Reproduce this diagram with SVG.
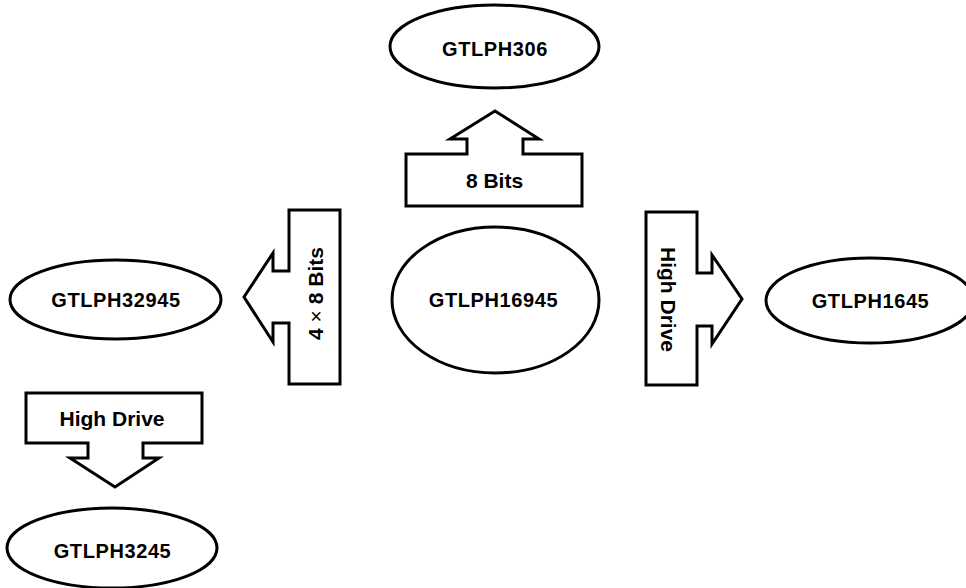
<svg xmlns="http://www.w3.org/2000/svg" width="966" height="588" viewBox="0 0 966 588">
<style>
.node ellipse{fill:#fff;stroke:#000;stroke-width:3}
.node text{font-family:"Liberation Sans",Arial,sans-serif;font-weight:bold;font-size:20px;letter-spacing:0.6px;text-anchor:middle;fill:#000}
.arrow polygon{fill:#fff;stroke:#000;stroke-width:3;stroke-linejoin:miter}
.arrow text{font-family:"Liberation Sans",Arial,sans-serif;font-weight:bold;font-size:21px;text-anchor:middle;fill:#000}
.thin{font-weight:normal}
</style>
<rect width="966" height="588" fill="#fff"/>
<g id="connectors">
<g class="arrow" id="arrow-up">
<polygon points="406,206 406,154 467,154 467,139 450,139 495,111 539,139 523,139 523,154 582,154 582,206"/>
<text x="494.5" y="188">8 Bits</text>
</g>
<g class="arrow" id="arrow-left">
<polygon points="340,210 289,210 289,271 273,271 273,253 244,297 273,342 273,323 289,323 289,384 340,384"/>
<text transform="translate(322.5,293.5) rotate(-90)">4 <tspan class="thin">×</tspan> 8 Bits</text>
</g>
<g class="arrow" id="arrow-right">
<polygon points="646,212 697,212 697,273 712,273 712,255 742,299 712,344 712,326 697,326 697,385 646,385"/>
<text transform="translate(660.5,299.5) rotate(90)">High Drive</text>
</g>
<g class="arrow" id="arrow-down">
<polygon points="26,393 202,393 202,443 143,443 143,458 159,458 115,487 70,458 88,458 88,443 26,443"/>
<text x="112" y="426">High Drive</text>
</g>
</g>
<g class="node" id="GTLPH306">
<ellipse cx="494.5" cy="46.5" rx="104.5" ry="41.5"/>
<text x="495" y="56">GTLPH306</text>
</g>
<g class="node" id="GTLPH16945">
<ellipse cx="495.5" cy="300" rx="103.5" ry="73"/>
<text x="493.5" y="307">GTLPH16945</text>
</g>
<g class="node" id="GTLPH32945">
<ellipse cx="115.5" cy="299.5" rx="105.5" ry="39.5"/>
<text x="116" y="306.5">GTLPH32945</text>
</g>
<g class="node" id="GTLPH1645">
<ellipse cx="870" cy="300.5" rx="104" ry="42.5"/>
<text x="870.5" y="308">GTLPH1645</text>
</g>
<g class="node" id="GTLPH3245">
<ellipse cx="112" cy="548" rx="105" ry="40"/>
<text x="112.5" y="558">GTLPH3245</text>
</g>
</svg>
